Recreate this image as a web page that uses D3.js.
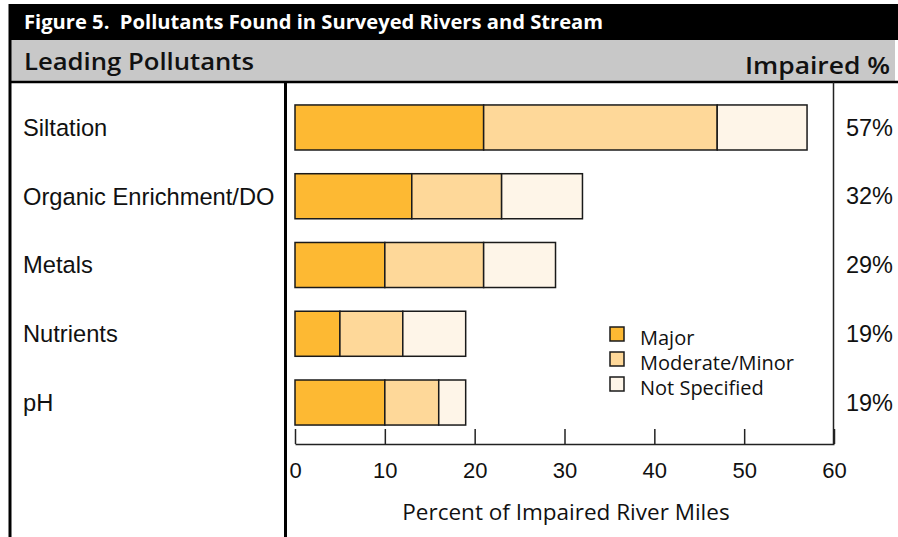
<!DOCTYPE html>
<html>
<head>
<meta charset="utf-8">
<script src="https://cdn.jsdelivr.net/npm/d3@7"></script>
<style>
  body { margin: 0; background: #fff; }
  svg { display: block; }
</style>
</head>
<body>
<div id="chart"></div>
<script>
// values (percent of impaired river miles)
const categories = ["Siltation", "Organic Enrichment/DO", "Metals", "Nutrients", "pH"];
const major = [21, 13, 10, 5, 10];
const moderateMinor = [26, 10, 11, 7, 6];
const notSpecified = [10, 9, 8, 7, 3];
const impairedLabels = ["57%", "32%", "29%", "19%", "19%"];
const seriesNames = ["Major", "Moderate/Minor", "Not Specified"];
const seriesColors = ["#fdb933", "#fed899", "#fef5e8"];
const xTicks = [0, 10, 20, 30, 40, 50, 60];

const W = 898, H = 537;
const svg = d3.select("#chart").append("svg")
  .attr("width", W).attr("height", H);

// title band
svg.append("rect").attr("x", 9).attr("y", 4).attr("width", W - 9).attr("height", 36).attr("fill", "#000");
svg.append("text").attr("x", 24).attr("y", 29)
  .attr("fill", "#fff").attr("font-family", "Open Sans").attr("font-weight", 700)
  .attr("font-size", 19).attr("textLength", 579).attr("lengthAdjust", "spacingAndGlyphs")
  .attr("xml:space", "preserve")
  .text("Figure 5.  Pollutants Found in Surveyed Rivers and Stream");

// column header band
svg.append("rect").attr("x", 9).attr("y", 40).attr("width", 886).attr("height", 42).attr("fill", "#c8c8c8");
svg.append("text").attr("x", 24).attr("y", 70)
  .attr("font-family", "Open Sans").attr("font-weight", 600).attr("font-size", 23)
  .attr("textLength", 230).attr("lengthAdjust", "spacingAndGlyphs")
  .attr("fill", "#111").text("Leading Pollutants");
svg.append("text").attr("x", 890).attr("y", 74).attr("text-anchor", "end")
  .attr("font-family", "Open Sans").attr("font-weight", 600).attr("font-size", 23)
  .attr("textLength", 145).attr("lengthAdjust", "spacingAndGlyphs")
  .attr("fill", "#111").text("Impaired %");

// frame lines
svg.append("line").attr("x1", 9).attr("x2", 898).attr("y1", 82).attr("y2", 82).attr("stroke", "#000").attr("stroke-width", 2.5);
svg.append("line").attr("x1", 10).attr("x2", 10).attr("y1", 4).attr("y2", H).attr("stroke", "#000").attr("stroke-width", 3);
svg.append("line").attr("x1", 285.5).attr("x2", 285.5).attr("y1", 82).attr("y2", H).attr("stroke", "#000").attr("stroke-width", 3);

const x = d3.scaleLinear().domain([0, 60]).range([295, 834]);
const y = d3.scaleBand().domain(categories)
  .range([93.1, 436.9]).paddingInner(0.345).paddingOuter(0.1725);

// right border of plot
svg.append("line").attr("x1", 833.5).attr("x2", 833.5).attr("y1", 82).attr("y2", 444)
  .attr("stroke", "#222").attr("stroke-width", 1.5);

// stacked bars
const rows = categories.map((c, i) => ({ cat: c, Major: major[i], "Moderate/Minor": moderateMinor[i], "Not Specified": notSpecified[i] }));
const stack = d3.stack().keys(seriesNames)(rows);

svg.append("g").selectAll("g")
  .data(stack).join("g")
    .attr("fill", (d, i) => seriesColors[i])
  .selectAll("rect")
  .data(d => d).join("rect")
    .attr("x", d => x(d[0]))
    .attr("y", d => y(d.data.cat))
    .attr("width", d => x(d[1]) - x(d[0]))
    .attr("height", y.bandwidth())
    .attr("stroke", "#1a1a1a").attr("stroke-width", 1.5);

// x axis, ticks pointing up
const axis = svg.append("g").attr("transform", "translate(0,444)")
  .call(d3.axisBottom(x).tickValues(xTicks).tickSize(-15).tickPadding(18).tickSizeOuter(0));
axis.select(".domain").attr("stroke", "#222").attr("stroke-width", 1.5);
axis.selectAll(".tick line").attr("stroke", "#222").attr("stroke-width", 1.5);
axis.selectAll(".tick text")
  .attr("font-family", "Liberation Sans, Arial, sans-serif").attr("font-size", 22).attr("fill", "#111");

svg.append("text").attr("x", 566).attr("y", 520).attr("text-anchor", "middle")
  .attr("font-family", "Open Sans").attr("font-size", 22.5).attr("fill", "#111")
  .text("Percent of Impaired River Miles");

// category labels
svg.append("g").selectAll("text")
  .data(categories).join("text")
    .attr("x", 23)
    .attr("y", d => y(d) + y.bandwidth() / 2)
    .attr("dy", "0.35em")
    .attr("font-family", "Liberation Sans, Arial, sans-serif").attr("font-size", 23.7).attr("fill", "#111")
    .text(d => d);

// impaired % labels
svg.append("g").selectAll("text")
  .data(impairedLabels).join("text")
    .attr("x", 893).attr("text-anchor", "end")
    .attr("y", (d, i) => y(categories[i]) + y.bandwidth() / 2)
    .attr("dy", "0.35em")
    .attr("font-family", "Liberation Sans, Arial, sans-serif").attr("font-size", 23.5).attr("fill", "#111")
    .text(d => d);

// legend
const legend = svg.append("g").attr("transform", "translate(610,327)");
const li = legend.selectAll("g").data(seriesNames).join("g")
  .attr("transform", (d, i) => `translate(0,${i * 25})`);
li.append("rect").attr("width", 14).attr("height", 14)
  .attr("fill", (d, i) => seriesColors[i]).attr("stroke", "#1a1a1a").attr("stroke-width", 1.5);
li.append("text").attr("x", 30).attr("y", 11).attr("dy", "0.35em")
  .attr("font-family", "Open Sans").attr("font-size", 20).attr("fill", "#111")
  .text(d => d);
</script>
</body>
</html>
